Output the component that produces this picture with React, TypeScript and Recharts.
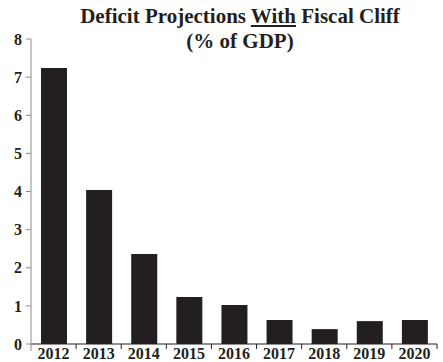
import { BarChart, Bar, XAxis, YAxis } from "recharts"

const years = ["2012", "2013", "2014", "2015", "2016", "2017", "2018", "2019", "2020"]
const deficit = [7.24, 4.04, 2.36, 1.23, 1.02, 0.63, 0.39, 0.6, 0.63]
const yTicks = [0, 1, 2, 3, 4, 5, 6, 7, 8]

const data = years.map((year, i) => ({ year, deficit: deficit[i] }))

const W = 443
const H = 362
const M = { top: 39, right: 6, left: 0, bottom: 0 }
const Y_W = 31
const X_H = 18
const band = (W - M.left - M.right - Y_W) / years.length
const ink = "#231f20"
const font = "'Liberation Serif', 'Times New Roman', serif"

const XTick = (props: any) => {
  const { x, y, payload, index } = props
  const right = x + band / 2
  const left = x - band / 2
  return (
    <g>
      {index === 0 && <line x1={left} y1={y} x2={left} y2={y + 7} stroke="#8c8c8c" />}
      <line x1={right} y1={y} x2={right} y2={y + 5} stroke={ink} />
      <text x={x} y={y + 15} textAnchor="middle" fontFamily={font} fontWeight="bold" fontSize={16} fill={ink}>
        {payload.value}
      </text>
    </g>
  )
}

export default function App() {
  return (
    <div style={{ position: "absolute", left: 0, top: 0, width: W, height: H, background: "#fff" }}>
      <div
        style={{
          position: "absolute",
          left: 40,
          top: 4,
          width: 400,
          textAlign: "center",
          fontFamily: font,
          fontWeight: "bold",
          fontSize: 21,
          lineHeight: "25px",
          color: ink,
        }}
      >
        Deficit Projections <u>With</u> Fiscal Cliff
        <br />
        (% of GDP)
      </div>
      <BarChart width={W} height={H} data={data} margin={M} barSize={26}>
        <XAxis
          dataKey="year"
          height={X_H}
          interval={0}
          tickSize={0}
          tickMargin={0}
          tickLine={false}
          axisLine={{ stroke: ink }}
          tick={<XTick />}
        />
        <YAxis
          width={Y_W}
          domain={[0, 8]}
          ticks={yTicks}
          interval={0}
          tickSize={5}
          tickMargin={4}
          axisLine={{ stroke: "#8c8c8c" }}
          tickLine={{ stroke: "#8c8c8c" }}
          tick={{ fill: ink, fontFamily: font, fontWeight: "bold", fontSize: 16 }}
        />
        <Bar dataKey="deficit" fill={ink} isAnimationActive={false} />
      </BarChart>
    </div>
  )
}
